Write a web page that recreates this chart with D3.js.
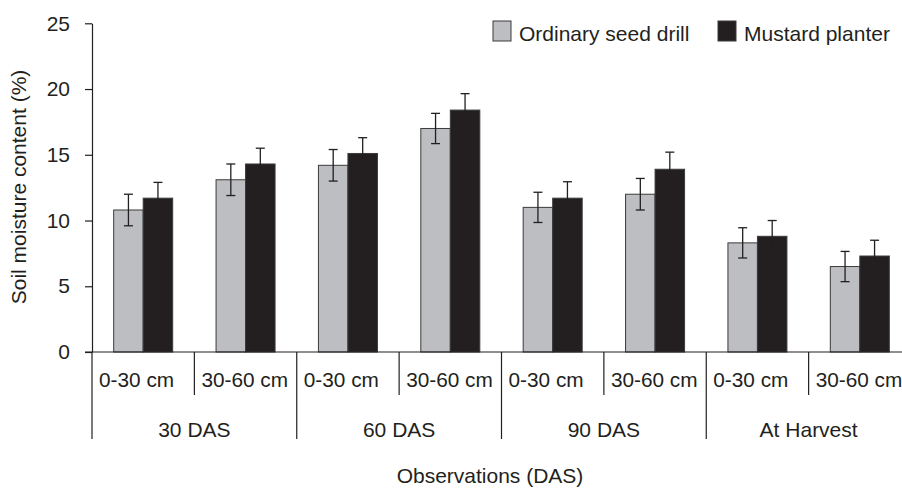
<!DOCTYPE html>
<html>
<head>
<meta charset="utf-8">
<script src="https://cdn.jsdelivr.net/npm/d3@7"></script>
<style>
  body { margin: 0; background: #fff; }
  text { font-family: "Liberation Sans", Arial, sans-serif; fill: #231f20; }
</style>
</head>
<body>
<svg id="chart" width="902" height="489"></svg>
<script>
const stages = ["30 DAS", "60 DAS", "90 DAS", "At Harvest"];
const depths = ["0-30 cm", "30-60 cm"];
const series = ["Ordinary seed drill", "Mustard planter"];
const colors = ["#bdbec2", "#231f20"];

// one value per stage/depth, in order
const seedDrill = [10.8, 13.1, 14.2, 17.0, 11.0, 12.0, 8.3, 6.5];
const planter = [11.7, 14.3, 15.1, 18.4, 11.7, 13.9, 8.8, 7.3];
const seedDrillErr = [1.2, 1.2, 1.2, 1.15, 1.15, 1.2, 1.15, 1.15];
const planterErr = [1.2, 1.2, 1.2, 1.25, 1.25, 1.3, 1.2, 1.2];
const yTicks = [0, 5, 10, 15, 20, 25];

var svg = d3.select("#chart"),
	margin = {top : 23.3, left : 92, bottom : 352, right : 911};

var cats = [];
stages.forEach(s => depths.forEach(d => cats.push(s + "|" + d)));

var data = cats.map((c, i) => ({
	cat : c,
	vals : [
		{key : series[0], v : seedDrill[i], e : seedDrillErr[i]},
		{key : series[1], v : planter[i], e : planterErr[i]}
	]
}));

var x0 = d3.scaleBand()
	.domain(cats)
	.range([margin.left, margin.right]);

var x1 = d3.scaleBand()
	.domain(series)
	.range([0, x0.bandwidth()])
	.paddingOuter(0.735);

var y = d3.scaleLinear()
	.domain([0, 25])
	.range([margin.bottom, margin.top]);

var color = d3.scaleOrdinal().domain(series).range(colors);

// bars
var groups = svg.append("g")
	.selectAll("g")
	.data(data)
	.enter()
	.append("g")
	.attr("transform", d => `translate(${x0(d.cat)},0)`);

groups.selectAll("rect")
	.data(d => d.vals)
	.enter()
	.append("rect")
	.attr("x", d => x1(d.key))
	.attr("y", d => y(d.v))
	.attr("width", x1.bandwidth())
	.attr("height", d => y(0) - y(d.v))
	.attr("fill", d => color(d.key))
	.attr("stroke", "#3b3b3b")
	.attr("stroke-width", 1);

// error bars
var err = groups.selectAll("g.err")
	.data(d => d.vals)
	.enter()
	.append("g")
	.attr("class", "err")
	.attr("stroke", "#231f20")
	.attr("stroke-width", 1.3);

err.append("line")
	.attr("x1", d => x1(d.key) + x1.bandwidth() / 2)
	.attr("x2", d => x1(d.key) + x1.bandwidth() / 2)
	.attr("y1", d => y(d.v + d.e))
	.attr("y2", d => y(d.v - d.e));

err.append("line")
	.attr("x1", d => x1(d.key) + x1.bandwidth() / 2 - 4.5)
	.attr("x2", d => x1(d.key) + x1.bandwidth() / 2 + 4.5)
	.attr("y1", d => y(d.v + d.e))
	.attr("y2", d => y(d.v + d.e));

err.append("line")
	.attr("x1", d => x1(d.key) + x1.bandwidth() / 2 - 4.5)
	.attr("x2", d => x1(d.key) + x1.bandwidth() / 2 + 4.5)
	.attr("y1", d => y(d.v - d.e))
	.attr("y2", d => y(d.v - d.e));

// y axis
var yAxis = svg.append("g")
	.attr("transform", `translate(${margin.left},0)`)
	.call(d3.axisLeft(y).tickValues(yTicks).tickSize(7).tickSizeOuter(0).tickPadding(15));

yAxis.selectAll("path, line").attr("stroke", "#231f20").attr("stroke-width", 1.2);
yAxis.selectAll("text")
	.attr("font-size", "21px")
	.attr("font-family", "Liberation Sans, Arial, sans-serif")
	.attr("fill", "#231f20");

// x axis line
svg.append("line")
	.attr("x1", margin.left - 7)
	.attr("x2", 902)
	.attr("y1", y(0))
	.attr("y2", y(0))
	.attr("stroke", "#231f20")
	.attr("stroke-width", 1.2);

// separators between depth and stage labels
cats.forEach((c, i) => {
	svg.append("line")
		.attr("x1", x0(c))
		.attr("x2", x0(c))
		.attr("y1", y(0))
		.attr("y2", i % 2 == 0 ? 439 : 395)
		.attr("stroke", "#231f20")
		.attr("stroke-width", 1.2);
});

// depth labels, set just right of each separator
svg.append("g")
	.selectAll("text")
	.data(cats)
	.enter()
	.append("text")
	.attr("x", d => x0(d) + 7)
	.attr("y", 387)
	.attr("font-size", "20.8px")
	.text(d => d.split("|")[1]);

// stage labels
svg.append("g")
	.selectAll("text")
	.data(stages)
	.enter()
	.append("text")
	.attr("x", d => x0(d + "|" + depths[1]))
	.attr("y", 437)
	.attr("text-anchor", "middle")
	.attr("font-size", "21px")
	.text(d => d);

// axis titles
svg.append("text")
	.attr("x", 490)
	.attr("y", 483)
	.attr("text-anchor", "middle")
	.attr("font-size", "21px")
	.text("Observations (DAS)");

svg.append("text")
	.attr("transform", "translate(26,187) rotate(-90)")
	.attr("text-anchor", "middle")
	.attr("font-size", "21px")
	.text("Soil moisture content (%)");

// legend
const legendX = [493, 718];
series.forEach((s, i) => {
	svg.append("rect")
		.attr("x", legendX[i])
		.attr("y", 21)
		.attr("width", 18)
		.attr("height", 20)
		.attr("fill", colors[i])
		.attr("stroke", "#3b3b3b")
		.attr("stroke-width", 1);
	svg.append("text")
		.attr("x", legendX[i] + 26)
		.attr("y", 41)
		.attr("font-size", "21px")
		.text(s);
});
</script>
</body>
</html>
